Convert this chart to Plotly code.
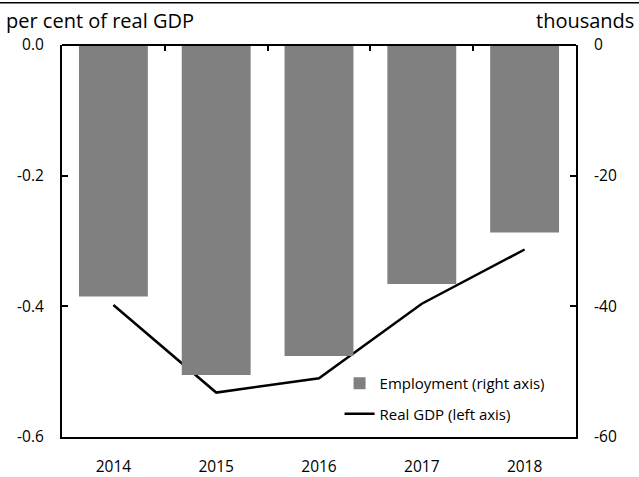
import plotly.graph_objects as go

years = ["2014", "2015", "2016", "2017", "2018"]
employment = [-38.5, -50.5, -47.6, -36.6, -28.7]   # thousands, right axis
real_gdp = [-0.398, -0.532, -0.510, -0.396, -0.313]  # per cent of real GDP, left axis
left_ticks = [0, -0.2, -0.4, -0.6]
left_labels = ["0.0", "-0.2", "-0.4", "-0.6"]
right_ticks = [0, -20, -40, -60]
right_labels = ["0", "-20", "-40", "-60"]

FONT = "Open Sans"

fig = go.Figure()
fig.add_trace(go.Bar(x=years, y=employment, name="Employment (right axis)",
                     marker=dict(color="#808080", line=dict(width=0)),
                     width=0.67, yaxis="y2", legendgroup="a"))
fig.add_trace(go.Scatter(x=years, y=real_gdp, name="Real GDP (left axis)",
                         mode="lines", line=dict(color="black", width=2.5),
                         legendgroup="b"))
# invisible helper trace for top tick marks
fig.add_trace(go.Scatter(x=years, y=[0]*5, xaxis="x2", mode="markers",
                         marker=dict(opacity=0), showlegend=False, hoverinfo="skip"))

fig.update_layout(
    width=639, height=477,
    margin=dict(l=62, r=63, t=45, b=40),
    plot_bgcolor="white", paper_bgcolor="white",
    font=dict(family=FONT, size=15, color="black"),
    xaxis=dict(type="category", showline=True, linecolor="black", linewidth=2,
               ticks="", tickfont=dict(size=15.5), ticklabelstandoff=14,
               automargin=False,
               showgrid=False, zeroline=False),
    xaxis2=dict(type="category", overlaying="x", side="top", matches="x",
                showline=False, ticks="inside", tickson="boundaries",
                ticklen=6, tickwidth=2, tickcolor="black", automargin=False,
                showticklabels=False, showgrid=False, zeroline=False),
    yaxis=dict(range=[-0.6, 0], tickvals=left_ticks, ticktext=left_labels,
               tickfont=dict(size=15.5), automargin=False,
               showline=True, linecolor="black", linewidth=2,
               ticks="inside", ticklen=6, tickwidth=2, tickcolor="black",
               ticklabelstandoff=13,
               showgrid=False, zeroline=False),
    yaxis2=dict(range=[-60, 0], tickvals=right_ticks, ticktext=right_labels,
                tickfont=dict(size=15.5), automargin=False,
                overlaying="y", side="right",
                showline=True, linecolor="black", linewidth=2,
                ticks="inside", ticklen=6, tickwidth=2, tickcolor="black",
                ticklabelstandoff=13,
                showgrid=False, zeroline=False),
    legend=dict(x=0.54, y=0.018, xanchor="left", yanchor="bottom",
                bgcolor="rgba(0,0,0,0)", font=dict(size=15), tracegroupgap=8,
                traceorder="grouped"),
    showlegend=True,
)

# top axis line at zero
fig.add_shape(type="line", xref="paper", yref="paper", x0=0, x1=1, y0=1, y1=1,
              line=dict(color="black", width=2))
# thin rule at the very top
fig.add_shape(type="line", xref="paper", yref="paper", x0=-0.125, x1=1.125,
              y0=1.108, y1=1.108, line=dict(color="black", width=1.5))

fig.add_annotation(text="per cent of real GDP", xref="paper", yref="paper",
                   x=-0.113, y=1.062, xanchor="left", yanchor="middle",
                   showarrow=False, font=dict(size=20, family=FONT))
fig.add_annotation(text="thousands", xref="paper", yref="paper",
                   x=1.117, y=1.062, xanchor="right", yanchor="middle",
                   showarrow=False, font=dict(size=20, family=FONT))

fig.write_html("out.html", config={"displayModeBar": False},
               post_script="document.body.style.margin='0';")
